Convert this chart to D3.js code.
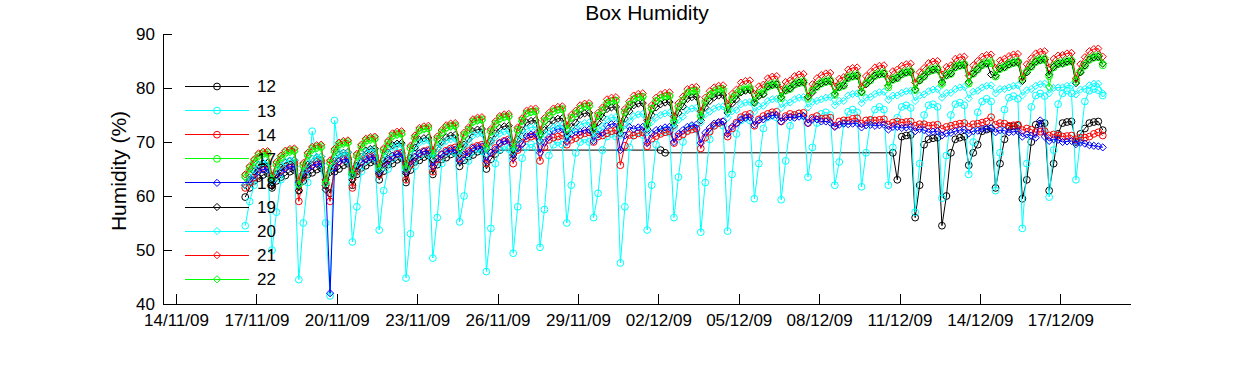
<!DOCTYPE html>
<html>
<head>
<meta charset="utf-8">
<script src="https://cdn.jsdelivr.net/npm/d3@7"></script>
<style>
  body { margin: 0; background: #fff; }
  svg { display: block; font-family: "Liberation Sans", Arial, sans-serif; }
  .ax path, .ax line { stroke: #000; shape-rendering: crispEdges; }
  .ax text { font-size: 17px; fill: #000; }
</style>
</head>
<body>
<svg id="chart" width="1250" height="365"></svg>
<script>
// sensor readings every 4 h from 16/11/09 14:00 (02 06 10 14 18 22 h, one day per row)
var names = ['12', '13', '14', '17', '18', '19', '20', '21', '22']
var colors = ['#000000', '#00ffff', '#ff0000', '#00ff00', '#0000ff', '#000000', '#00ffff', '#ff0000', '#00ff00']
var markers = ['o', 'o', 'o', 'o', 'd', 'd', 'd', 'd', 'd']

var box12 = [59.8, 61.5, 62.8,
  63.3, 63.9, 64.2, 61.5, 62.8, 63.5,
  63.8, 64.5, 64.8, 61.0, 62.8, 64.0,
  64.3, 64.9, 65.2, 62.0, 60.5, 64.5,
  65.0, 65.7, 66.0, 62.0, 64.0, 65.2,
  65.6, 66.2, 66.5, 63.0, 64.6, 65.8,
  66.0, 66.7, 67.0, 62.5, 64.8, 66.3,
  66.6, 67.2, 67.5, 64.0, 65.8, 66.8,
  67.1, 67.7, 68.0, 65.5, 66.6, 67.3,
  67.6, 68.2, 68.4, 65.0, 66.8, 67.8,
  68.5, null, null, null, null, null,
  null, null, null, null, null, null,
  null, null, null, null, null, null,
  null, null, null, null, null, null,
  null, null, null, null, null, null,
  null, null, null, null, null, null,
  68.5, 68.0, null, null, null, null,
  null, null, null, null, null, null,
  null, null, null, null, null, null,
  null, null, null, null, null, null,
  null, null, null, null, null, null,
  null, null, null, null, null, null,
  null, null, null, null, null, null,
  null, null, null, null, null, null,
  null, null, null, null, 68.0, 63.0,
  71.0, 71.2, 71.3, 56.0, 62.0, 69.5,
  70.5, 70.7, 70.8, 54.5, 60.0, 68.0,
  70.5, 70.8, 71.0, 65.7, 68.0, 69.5,
  72.0, 72.3, 72.5, 61.5, 66.0, 70.5,
  72.8, 72.9, 73.0, 59.5, 63.0, 70.0,
  73.2, 73.4, 73.5, 61.0, 66.0, 71.5,
  73.5, 73.7, 73.8, 70.0, 71.5, 72.5,
  73.5, 73.7, 73.8, 72.2]

var box13 = [54.5, 59.0, 62.0,
  65.0, 66.0, 65.5, 50.0, 57.0, 63.0,
  65.5, 66.5, 66.0, 44.5, 55.0, 62.5,
  72.0, 67.0, 66.0, 55.0, 41.5, 74.0,
  68.0, 67.0, 66.5, 51.5, 58.0, 64.5,
  66.5, 67.5, 67.0, 53.7, 61.0, 65.0,
  67.0, 68.0, 67.5, 44.8, 53.0, 65.5,
  67.5, 68.3, 67.8, 48.5, 56.0, 66.0,
  68.0, 68.5, 68.0, 55.2, 60.0, 66.5,
  68.2, 68.8, 68.3, 46.0, 54.0, 66.0,
  68.6, 69.2, 68.7, 49.4, 58.0, 67.0,
  69.0, 69.6, 69.1, 50.5, 57.5, 67.5,
  69.5, 70.0, 69.5, 55.0, 62.0, 68.0,
  70.0, 70.5, 70.0, 56.0, 60.5, 68.5,
  71.0, 71.5, 71.0, 47.6, 58.0, 69.0,
  71.2, 71.8, 71.3, 53.7, 62.0, 69.5,
  71.8, 72.2, 71.7, 56.0, 63.5, 70.0,
  72.2, 72.8, 72.3, 53.3, 62.5, 70.5,
  73.0, 73.5, 73.0, 53.5, 64.0, 71.5,
  74.0, 74.5, 74.0, 59.5, 66.0, 72.5,
  74.6, 75.0, 74.5, 59.3, 66.5, 73.0,
  75.0, 75.3, 74.8, 63.5, 69.0, 73.5,
  75.2, 75.5, 75.0, 62.0, 66.3, 73.5,
  75.6, 76.0, 75.5, 61.7, 68.0, 74.0,
  76.0, 76.5, 76.0, 62.0, 69.0, 74.5,
  76.5, 76.8, 76.3, 57.0, 66.0, 75.0,
  76.8, 77.0, 76.5, 59.6, 67.5, 75.0,
  77.0, 77.3, 76.8, 64.0, 70.0, 75.5,
  77.5, 78.0, 77.5, 61.0, 68.0, 76.0,
  78.2, 78.5, 78.0, 54.0, 66.0, 76.5,
  78.6, 79.0, 78.5, 59.8, 68.5, 77.0,
  79.0, 79.5, 79.0, 63.0, 70.5, 77.5,
  79.5, 79.8, 79.6, 78.6]

var box14 = [61.5, 62.5, 63.4,
  65.0, 65.4, 65.5, 62.0, 64.0, 64.8,
  65.4, 65.8, 66.0, 59.0, 63.5, 65.2,
  65.8, 66.3, 66.5, 62.0, 59.0, 65.5,
  66.4, 66.8, 67.0, 61.5, 64.5, 66.3,
  67.0, 67.3, 67.5, 64.0, 66.0, 66.8,
  67.4, 67.8, 68.0, 63.0, 65.8, 67.2,
  67.9, 68.3, 68.5, 64.5, 66.8, 67.7,
  68.4, 68.8, 69.0, 67.0, 68.0, 68.3,
  69.0, 69.3, 69.5, 66.0, 68.0, 68.9,
  69.8, 70.2, 70.5, 66.0, 68.5, 69.8,
  70.7, 71.0, 71.2, 66.5, 69.0, 70.4,
  70.8, 71.0, 71.2, 69.5, 70.4, 70.7,
  71.3, 71.6, 71.8, 70.0, 71.0, 71.2,
  71.6, 72.0, 72.2, 65.7, 69.3, 71.3,
  71.2, 71.6, 71.8, 69.2, 70.6, 71.1,
  71.5, 71.8, 72.0, 69.8, 71.0, 71.4,
  72.0, 72.3, 72.5, 68.8, 70.8, 71.9,
  73.0, 73.5, 73.8, 71.0, 72.5, 73.6,
  74.6, 75.0, 75.2, 73.0, 74.2, 74.8,
  75.2, 75.5, 75.6, 73.8, 74.8, 75.2,
  75.0, 75.3, 75.4, 73.5, 74.5, 74.8,
  74.3, 74.4, 74.5, 73.0, 73.8, 74.0,
  74.0, 74.3, 74.4, 73.4, 74.0, 74.1,
  74.0, 74.1, 74.2, 73.2, 73.6, 73.8,
  73.6, 73.7, 73.8, 73.0, 73.3, 73.3,
  73.0, 73.1, 73.2, 72.4, 72.8, 73.0,
  73.2, 73.4, 73.5, 72.8, 73.3, 73.4,
  73.6, 73.8, 74.6, 73.2, 73.5, 73.4,
  73.0, 73.1, 73.2, 72.2, 72.5, 72.3,
  71.8, 71.9, 72.0, 71.2, 71.4, 71.2,
  71.0, 71.1, 71.2, 70.5, 70.8, 70.8,
  71.0, 71.5, 71.8, 71.2]

var box17 = [63.7, 65.2, 66.5,
  67.6, 67.9, 68.0, 63.2, 65.9, 67.2,
  68.1, 68.4, 68.5, 62.2, 65.7, 67.7,
  68.8, 69.1, 69.2, 62.5, 66.2, 68.4,
  69.6, 69.9, 70.0, 64.3, 67.5, 69.2,
  70.3, 70.6, 70.7, 65.5, 68.5, 69.9,
  71.2, 71.5, 71.6, 65.5, 68.9, 70.8,
  72.2, 72.5, 72.6, 68.0, 70.6, 71.8,
  72.7, 73.0, 73.1, 69.0, 71.3, 72.3,
  73.8, 74.1, 74.2, 69.1, 72.0, 73.4,
  74.4, 74.7, 74.8, 69.2, 72.3, 74.0,
  75.3, 75.6, 75.7, 71.6, 73.9, 74.9,
  75.7, 76.0, 76.1, 72.5, 74.5, 75.3,
  76.2, 76.6, 76.7, 72.6, 74.9, 75.9,
  77.1, 77.5, 77.7, 72.6, 75.5, 76.9,
  77.9, 78.3, 78.4, 73.3, 76.2, 77.6,
  78.1, 78.4, 78.5, 73.9, 76.5, 77.7,
  78.9, 79.3, 79.4, 74.8, 77.3, 78.6,
  79.1, 79.4, 79.5, 76.0, 77.9, 78.7,
  79.4, 79.7, 79.8, 77.3, 78.7, 79.0,
  80.2, 80.5, 80.6, 78.1, 79.5, 79.8,
  80.6, 80.9, 81.0, 78.0, 79.6, 80.2,
  80.8, 81.1, 81.2, 78.7, 80.1, 80.4,
  81.8, 82.1, 82.2, 79.2, 80.8, 81.4,
  82.2, 82.5, 82.6, 80.1, 81.5, 81.8,
  82.5, 82.8, 82.9, 79.6, 81.4, 82.1,
  83.0, 83.3, 83.4, 80.9, 82.3, 82.6,
  83.8, 84.1, 84.2, 80.8, 82.6, 83.4,
  84.2, 84.5, 84.6, 82.1, 83.5, 83.8,
  84.3, 84.6, 84.7, 81.6, 83.0, 83.9,
  84.8, 85.1, 85.2, 82.2, 83.8, 84.4,
  84.5, 84.8, 84.9, 81.2, 83.0, 84.1,
  85.2, 85.6, 85.7, 84.2]

var box18 = [62.0, 63.0, 63.8,
  64.6, 64.9, 65.0, 62.5, 63.9, 64.4,
  65.1, 65.4, 65.5, 62.5, 64.2, 64.9,
  65.6, 65.9, 66.0, 63.0, 42.0, 65.2,
  66.4, 66.7, 66.8, 64.0, 65.5, 66.2,
  66.8, 67.1, 67.2, 64.5, 66.0, 66.6,
  67.4, 67.7, 67.8, 64.5, 66.3, 67.2,
  67.9, 68.2, 68.3, 65.5, 67.0, 67.7,
  68.2, 68.5, 68.6, 66.5, 67.7, 68.0,
  68.8, 69.1, 69.2, 66.5, 68.0, 68.6,
  69.8, 70.1, 70.2, 67.0, 68.8, 69.6,
  71.1, 71.4, 71.5, 68.0, 69.9, 70.9,
  72.1, 72.4, 72.5, 70.0, 71.4, 71.9,
  71.9, 72.2, 72.3, 70.2, 71.4, 71.7,
  73.0, 73.3, 73.4, 68.5, 71.2, 72.8,
  72.4, 72.7, 72.8, 69.8, 71.5, 72.2,
  72.4, 72.7, 72.8, 70.0, 71.5, 72.2,
  72.8, 73.1, 73.2, 69.8, 71.7, 72.6,
  73.4, 73.7, 73.8, 71.5, 72.8, 73.4,
  74.2, 74.5, 74.6, 73.2, 74.0, 74.2,
  74.7, 74.9, 75.0, 73.8, 74.5, 74.6,
  74.5, 74.7, 74.8, 73.5, 74.2, 74.2,
  73.8, 73.8, 73.6, 72.8, 73.2, 73.4,
  73.3, 73.4, 73.5, 72.7, 73.1, 73.2,
  73.0, 73.1, 73.2, 72.3, 72.8, 72.8,
  72.6, 72.7, 72.8, 72.0, 72.4, 72.2,
  71.8, 71.9, 72.0, 71.2, 71.6, 71.7,
  72.0, 72.2, 72.3, 71.6, 72.0, 72.1,
  72.4, 72.5, 72.6, 71.8, 72.2, 72.1,
  71.8, 71.9, 72.0, 71.0, 71.4, 71.2,
  70.8, 74.0, 71.0, 70.2, 70.5, 70.4,
  70.0, 70.1, 70.2, 69.6, 69.9, 69.7,
  69.4, 69.3, 69.2, 69.0]

var box19 = [62.0, 63.4, 64.6,
  65.7, 66.0, 66.1, 61.8, 64.1, 65.3,
  66.2, 66.5, 66.6, 61.0, 63.9, 65.8,
  66.9, 67.2, 67.3, 61.2, 64.4, 66.5,
  67.7, 68.0, 68.1, 63.0, 65.6, 67.3,
  68.4, 68.7, 68.8, 64.2, 66.6, 68.0,
  69.4, 69.7, 69.8, 64.2, 67.1, 69.0,
  70.4, 70.7, 70.8, 66.8, 68.8, 70.0,
  70.9, 71.2, 71.3, 67.8, 69.5, 70.5,
  72.0, 72.3, 72.4, 67.8, 70.2, 71.6,
  72.6, 72.9, 73.0, 67.6, 70.5, 72.2,
  73.6, 73.9, 74.0, 70.2, 72.2, 73.2,
  74.0, 74.3, 74.4, 71.2, 72.8, 73.6,
  75.0, 75.3, 75.4, 71.6, 73.6, 74.6,
  76.1, 76.4, 76.5, 71.6, 74.3, 75.7,
  76.8, 77.1, 77.2, 72.4, 75.0, 76.4,
  77.0, 77.3, 77.4, 73.0, 75.4, 76.6,
  78.0, 78.3, 78.4, 74.0, 76.4, 77.6,
  78.3, 78.6, 78.7, 75.4, 77.1, 77.9,
  79.2, 79.5, 79.6, 77.3, 78.5, 78.8,
  80.3, 80.6, 80.7, 78.3, 79.6, 79.9,
  80.7, 81.0, 81.1, 78.4, 79.2, 80.3,
  80.9, 81.2, 81.3, 78.9, 80.2, 80.5,
  81.9, 82.2, 82.3, 79.3, 80.7, 81.5,
  82.3, 82.6, 82.7, 80.4, 81.6, 81.9,
  82.6, 82.9, 83.0, 79.7, 81.4, 82.2,
  83.1, 83.4, 83.5, 81.1, 82.4, 82.7,
  83.9, 84.2, 84.3, 81.1, 82.7, 83.5,
  84.3, 84.6, 82.5, 82.3, 83.6, 83.9,
  84.4, 84.7, 84.8, 81.3, 82.9, 84.0,
  84.9, 85.2, 85.3, 82.5, 83.9, 84.5,
  84.6, 84.9, 85.0, 80.9, 82.9, 84.2,
  85.3, 85.7, 85.8, 84.5]

var box20 = [62.0, 63.4, 64.8,
  65.9, 66.2, 66.3, 62.7, 64.7, 65.6,
  66.3, 66.6, 66.7, 62.2, 64.7, 66.0,
  66.9, 67.2, 67.3, 62.3, 65.1, 66.6,
  67.6, 67.9, 68.0, 63.8, 66.1, 67.3,
  68.2, 68.5, 68.6, 64.8, 66.9, 67.9,
  69.1, 69.4, 69.5, 65.0, 67.5, 68.8,
  69.9, 70.2, 70.3, 67.0, 68.8, 69.6,
  70.2, 70.5, 70.6, 67.5, 69.2, 69.9,
  71.2, 71.5, 71.6, 67.8, 69.9, 70.9,
  71.6, 71.9, 72.0, 68.2, 70.3, 71.3,
  72.4, 72.7, 72.8, 70.0, 71.5, 72.1,
  72.7, 73.0, 73.1, 70.6, 72.0, 72.4,
  73.2, 73.5, 73.6, 70.8, 72.3, 72.9,
  74.2, 74.5, 74.6, 71.2, 73.1, 73.9,
  74.8, 75.1, 75.2, 71.8, 73.7, 74.5,
  75.0, 75.3, 75.4, 72.6, 74.1, 74.7,
  75.9, 76.2, 76.3, 73.6, 75.1, 75.6,
  76.2, 76.5, 76.6, 74.5, 75.7, 75.9,
  77.0, 77.3, 77.4, 75.6, 76.6, 76.7,
  77.6, 77.9, 78.0, 76.3, 77.2, 77.3,
  77.9, 78.2, 78.3, 76.4, 77.4, 77.6,
  77.9, 78.2, 78.3, 76.8, 77.6, 77.6,
  78.6, 78.9, 79.0, 77.2, 78.2, 78.3,
  78.9, 79.2, 79.3, 77.8, 78.6, 78.6,
  79.1, 79.4, 79.5, 77.6, 78.6, 78.8,
  79.4, 79.7, 79.8, 78.2, 79.1, 79.1,
  79.8, 80.1, 80.2, 78.1, 79.3, 79.5,
  80.1, 80.4, 80.5, 79.0, 79.8, 79.8,
  80.1, 80.4, 80.5, 78.6, 79.6, 79.8,
  80.4, 80.7, 80.8, 79.0, 80.0, 80.1,
  80.1, 80.4, 80.5, 78.8, 79.7, 79.8,
  80.5, 80.8, 80.8, 79.0]

var box21 = [64.0, 65.5, 66.8,
  67.9, 68.2, 68.3, 63.8, 66.3, 67.5,
  68.4, 68.7, 68.8, 62.8, 66.1, 68.0,
  69.1, 69.4, 69.5, 63.0, 66.6, 68.7,
  69.9, 70.2, 70.3, 64.8, 67.8, 69.5,
  70.6, 70.9, 71.0, 66.0, 68.8, 70.2,
  71.6, 71.9, 72.0, 66.0, 69.3, 71.2,
  72.6, 72.9, 73.0, 68.5, 71.0, 72.2,
  73.1, 73.4, 73.5, 69.5, 71.7, 72.7,
  74.2, 74.5, 74.6, 69.6, 72.4, 73.8,
  74.8, 75.1, 75.2, 69.7, 72.7, 74.4,
  75.8, 76.1, 76.2, 72.2, 74.4, 75.4,
  76.2, 76.5, 76.6, 73.1, 75.0, 75.8,
  76.8, 77.1, 77.2, 73.2, 75.4, 76.4,
  77.9, 78.2, 78.3, 73.3, 76.1, 77.5,
  78.6, 78.9, 79.0, 74.0, 76.8, 78.2,
  78.8, 79.1, 79.2, 74.7, 77.2, 78.4,
  79.8, 80.1, 80.2, 75.7, 78.2, 79.4,
  80.1, 80.4, 80.5, 77.0, 78.9, 79.7,
  81.0, 81.3, 81.4, 78.9, 80.3, 80.6,
  81.8, 82.1, 82.2, 79.7, 81.1, 81.4,
  82.2, 82.5, 82.6, 78.3, 80.7, 81.8,
  82.4, 82.7, 82.8, 80.3, 81.7, 82.0,
  83.4, 83.7, 83.8, 80.2, 82.2, 83.0,
  83.8, 84.1, 84.2, 81.7, 83.1, 83.4,
  84.1, 84.4, 84.5, 81.0, 82.9, 83.7,
  84.6, 84.9, 85.0, 82.5, 83.9, 84.2,
  85.4, 85.7, 85.8, 82.3, 84.2, 85.0,
  85.8, 86.1, 86.2, 83.7, 85.1, 85.4,
  85.9, 86.2, 86.3, 82.0, 84.4, 85.5,
  86.4, 86.7, 86.8, 83.8, 85.4, 86.0,
  86.1, 86.4, 86.5, 81.8, 84.4, 85.7,
  86.8, 87.2, 87.3, 85.8]

var box22 = [63.4, 64.9, 66.2,
  67.3, 67.6, 67.7, 63.0, 65.6, 66.9,
  67.8, 68.1, 68.2, 62.0, 65.4, 67.4,
  68.5, 68.8, 68.9, 62.4, 66.0, 68.1,
  69.3, 69.6, 69.7, 64.0, 67.2, 68.9,
  70.0, 70.3, 70.4, 65.2, 68.2, 69.6,
  71.0, 71.3, 71.4, 65.2, 68.7, 70.6,
  72.0, 72.3, 72.4, 67.6, 70.4, 71.6,
  72.5, 72.8, 72.9, 68.7, 71.1, 72.1,
  73.6, 73.9, 74.0, 68.8, 71.8, 73.2,
  74.2, 74.5, 74.6, 68.8, 72.1, 73.8,
  75.2, 75.5, 75.6, 71.3, 73.8, 74.8,
  75.6, 75.9, 76.0, 72.3, 74.4, 75.2,
  76.2, 76.5, 76.6, 72.4, 74.8, 75.8,
  77.3, 77.6, 77.7, 72.4, 75.5, 76.9,
  78.0, 78.3, 78.4, 73.1, 76.2, 77.6,
  78.2, 78.5, 78.6, 73.8, 76.6, 77.8,
  79.2, 79.5, 79.6, 74.8, 77.6, 78.8,
  79.5, 79.8, 79.9, 76.0, 78.3, 79.1,
  79.8, 80.1, 80.2, 77.6, 79.1, 79.4,
  80.6, 80.9, 81.0, 78.4, 79.9, 80.2,
  81.0, 81.3, 81.4, 78.2, 79.5, 80.6,
  81.2, 81.5, 81.6, 79.0, 80.5, 80.8,
  82.2, 82.5, 82.6, 79.4, 81.0, 81.8,
  82.6, 82.9, 83.0, 80.4, 81.9, 82.2,
  82.9, 83.2, 83.3, 79.8, 81.7, 82.5,
  83.4, 83.7, 83.8, 80.6, 82.7, 83.0,
  84.2, 84.5, 84.6, 81.0, 83.0, 83.8,
  84.6, 84.9, 85.0, 82.4, 83.9, 84.2,
  84.7, 85.0, 85.1, 81.8, 83.2, 84.3,
  85.2, 85.5, 85.6, 80.2, 84.2, 84.8,
  84.9, 85.2, 85.3, 81.5, 83.2, 84.5,
  85.6, 86.0, 86.1, 84.6]

var series = [box12, box13, box14, box17, box18, box19, box20, box21, box22]

var tickDates = ['2009-11-14', '2009-11-17', '2009-11-20', '2009-11-23', '2009-11-26', '2009-11-29',
  '2009-12-02', '2009-12-05', '2009-12-08', '2009-12-11', '2009-12-14', '2009-12-17']
var yTicks = [40, 50, 60, 70, 80, 90]

;(function () {
  var svg = d3.select('#chart')
  var t0 = new Date(2009, 10, 16, 14)
  var stepHours = 4
  var parse = d3.timeParse('%Y-%m-%d')

  var x = d3.scaleTime()
      .domain([new Date(2009, 10, 13, 12, 22), new Date(2009, 11, 19, 14, 24)])
      .range([163, 1130])

  var y = d3.scaleLinear()
      .domain([40, 90])
      .range([304, 34])

  /*
      --------------------------------------
      Axes
  */
  svg.append('g')
      .classed('ax x', true)
      .attr('transform', 'translate(0,304)')
      .call(d3.axisBottom(x)
        .tickValues(tickDates.map(parse))
        .tickFormat(d3.timeFormat('%d/%m/%y'))
        .tickSizeInner(-10)
        .tickSizeOuter(0)
        .tickPadding(10))

  svg.append('g')
      .classed('ax y', true)
      .attr('transform', 'translate(163,0)')
      .call(d3.axisLeft(y)
        .tickValues(yTicks)
        .tickSizeInner(-9)
        .tickSizeOuter(0)
        .tickPadding(8))

  /*
      --------------------------------------
      Series
  */
  var line = d3.line()
      .x(d => x(d.t))
      .y(d => y(d.v))

  function marker (sel, kind, color) {
    if (kind === 'o') {
      sel.append('circle').attr('r', 3.4)
    } else {
      sel.append('path').attr('d', 'M0,-3.6L3.6,0L0,3.6L-3.6,0Z')
    }
    sel.selectAll('circle, path')
        .attr('fill', 'none')
        .attr('stroke', color)
        .attr('stroke-width', 1)
  }

  var plot = svg.append('g').classed('chart', true)

  series.forEach(function (vals, k) {
    var pts = vals.map((v, i) => ({t: d3.timeHour.offset(t0, stepHours * i), v: v}))
        .filter(d => d.v !== null)

    var g = plot.append('g')

    g.append('path')
        .attr('d', line(pts))
        .attr('fill', 'none')
        .attr('stroke', colors[k])
        .attr('stroke-width', 1)

    g.selectAll('g.m')
        .data(pts)
        .enter()
        .append('g')
        .classed('m', true)
        .attr('transform', d => `translate(${x(d.t)},${y(d.v)})`)
        .call(marker, markers[k], colors[k])
  })

  /*
      --------------------------------------
      Labels
  */
  svg.append('text')
      .attr('x', 647)
      .attr('y', 20)
      .attr('text-anchor', 'middle')
      .style('font-size', '21px')
      .text('Box Humidity')

  svg.append('text')
      .attr('transform', 'translate(126,171) rotate(-90)')
      .attr('text-anchor', 'middle')
      .style('font-size', '21px')
      .text('Humidity (%)')

  /*
      --------------------------------------
      Legend
  */
  var legend = svg.append('g').classed('legend', true)

  names.forEach(function (name, k) {
    var row = legend.append('g')
        .attr('transform', `translate(0,${86.5 + k * 24.1})`)

    row.append('line')
        .attr('x1', 185)
        .attr('x2', 249)
        .attr('stroke', colors[k])
        .attr('stroke-width', 1)
        .style('shape-rendering', 'crispEdges')

    row.append('g')
        .attr('transform', 'translate(217,0)')
        .call(marker, markers[k], colors[k])

    row.append('text')
        .attr('x', 257)
        .attr('dy', '0.35em')
        .style('font-size', '17px')
        .text(name)
  })
})()
</script>
</body>
</html>
